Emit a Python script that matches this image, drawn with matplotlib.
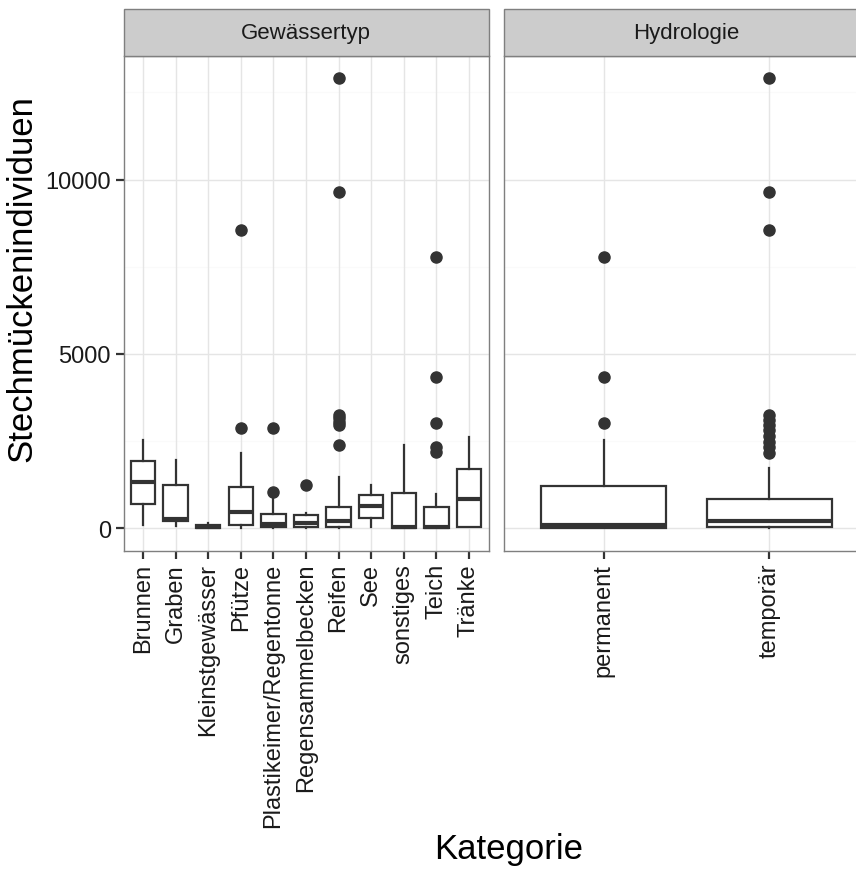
import matplotlib
matplotlib.use("Agg")
import matplotlib.pyplot as plt
from matplotlib.patches import Rectangle

plt.rcParams['font.family'] = ['Liberation Sans', 'DejaVu Sans']

# Gewässertyp panel: box statistics
typ_labels = ['Brunnen', 'Graben', 'Kleinstgewässer', 'Pfütze', 'Plastikeimer/Regentonne',
              'Regensammelbecken', 'Reifen', 'See', 'sonstiges', 'Teich', 'Tränke']
typ_whislo = [95, 50, 0, 0, 0, 0, 0, 20, 0, 0, 40]
typ_q1 = [680, 190, 5, 75, 30, 40, 30, 300, 0, 0, 40]
typ_med = [1310, 270, 30, 455, 110, 140, 190, 640, 30, 20, 835]
typ_q3 = [1920, 1225, 90, 1170, 390, 380, 610, 950, 1000, 590, 1690]
typ_whishi = [2520, 1960, 130, 2140, 880, 420, 1470, 1235, 2375, 970, 2610]
typ_fliers = [[], [], [], [2870, 8540], [1030, 2870], [1225],
              [2380, 2950, 3050, 3150, 3230, 9650, 12900], [], [],
              [2180, 2330, 3010, 4340, 7780], []]

# Hydrologie panel
hyd_labels = ['permanent', 'temporär']
hyd_whislo = [0, 0]
hyd_q1 = [0, 30]
hyd_med = [80, 190]
hyd_q3 = [1210, 835]
hyd_whishi = [2520, 1710]
hyd_fliers = [[3010, 4340, 7780],
              [2150, 2320, 2480, 2640, 2800, 2950, 3100, 3230, 8540, 9650, 12900]]

panels = [
    ('Gewässertyp', typ_labels, typ_whislo, typ_q1, typ_med, typ_q3, typ_whishi, typ_fliers),
    ('Hydrologie', hyd_labels, hyd_whislo, hyd_q1, hyd_med, hyd_q3, hyd_whishi, hyd_fliers),
]

W, H = 856, 870
fig = plt.figure(figsize=(W / 100, H / 100), dpi=100)

box_col = '#333333'
border_col = '#7f7f7f'
panel_left = [123.5, 504]
panel_w = 365
panel_top, panel_bot = 57, 551.5
strip_top = 10

for k, (title, labels, wlo, q1, med, q3, whi, fl) in enumerate(panels):
    ax = fig.add_axes([panel_left[k] / W, 1 - panel_bot / H, panel_w / W, (panel_bot - panel_top) / H])
    stats = []
    for i in range(len(labels)):
        stats.append(dict(whislo=wlo[i], q1=q1[i], med=med[i], q3=q3[i], whishi=whi[i], fliers=fl[i]))
    pos = list(range(1, len(labels) + 1))
    ax.bxp(stats, positions=pos, widths=0.75, showcaps=False, patch_artist=True,
           boxprops=dict(facecolor='white', edgecolor=box_col, linewidth=1.6),
           whiskerprops=dict(color=box_col, linewidth=1.6),
           medianprops=dict(color=box_col, linewidth=3.0, solid_capstyle='butt'),
           flierprops=dict(marker='o', markerfacecolor=box_col, markeredgecolor=box_col,
                           markersize=8, linestyle='none'))
    ax.set_xlim(0.4, len(labels) + 0.6)
    ax.set_ylim(-645, 13545)

    # grid like theme_bw
    ax.set_axisbelow(True)
    for y in [2500, 7500, 12500]:
        ax.axhline(y, color='#fafafa', linewidth=0.9, zorder=0)
    for y in [0, 5000, 10000]:
        ax.axhline(y, color='#e5e5e5', linewidth=1.0, zorder=0)
    for x in pos:
        ax.axvline(x, color='#e5e5e5', linewidth=1.0, zorder=0)

    ax.set_xticks(pos)
    ax.set_xticklabels(labels, rotation=90, fontsize=17, color='#1a1a1a')
    ax.set_yticks([0, 5000, 10000])
    if k == 0:
        ax.set_yticklabels(['0', '5000', '10000'], fontsize=17, color='#1a1a1a')
    else:
        ax.tick_params(axis='y', left=False, labelleft=False)
    ax.tick_params(axis='both', length=6, width=1.6, color='#333333', pad=3)
    for sp in ax.spines.values():
        sp.set_color(border_col)
        sp.set_linewidth(1.0)

    # facet strip
    sax = fig.add_axes([panel_left[k] / W, 1 - panel_top / H, panel_w / W, (panel_top - strip_top) / H])
    sax.set_xlim(0, 1)
    sax.set_ylim(0, 1)
    sax.axis('off')
    sax.add_patch(Rectangle((0, 0), 1, 1, facecolor='#cccccc', edgecolor=border_col,
                            linewidth=1.0, transform=sax.transAxes, clip_on=False))
    sax.text(0.5, 0.5, title, ha='center', va='center', fontsize=16, color='#1a1a1a')

fig.text(22 / W, 1 - 279 / H, 'Stechmückenindividuen', rotation=90, ha='center', va='center', fontsize=25)
fig.text(509 / W, 1 - 850 / H, 'Kategorie', ha='center', va='center', fontsize=25)

fig.savefig('out.png', dpi=100, facecolor='white')
